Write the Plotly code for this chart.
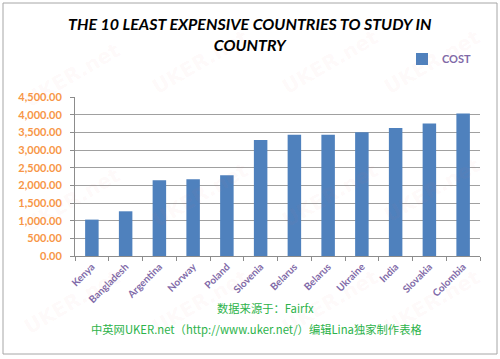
import plotly.graph_objects as go

countries = ["Kenya", "Bangladesh", "Argentina", "Norway", "Poland", "Slovenia",
             "Belarus", "Belarus ", "Ukraine", "India", "Slovakia", "Colombia"]
tick_text = ["Kenya", "Bangladesh", "Argentina", "Norway", "Poland", "Slovenia",
             "Belarus", "Belarus", "Ukraine", "India", "Slovakia", "Colombia"]
cost = [1030, 1265, 2145, 2170, 2285, 3285, 3435, 3435, 3500, 3625, 3750, 4030]
y_ticks = [0, 500, 1000, 1500, 2000, 2500, 3000, 3500, 4000, 4500]

W, H = 500, 359
L, R, T, B = 75, 20, 97, 103
PW, PH = W - L - R, H - T - B


def px(x):
    return (x - L) / PW


def py(y):
    return (H - B - y) / PH


fig = go.Figure()
fig.add_trace(go.Bar(x=countries, y=cost, name="<b>COST</b>", marker_color="#4F81BD",
                     marker_line_width=0))

annotations = []
wm = [(72, 75), (200, 62), (330, 62), (432, 62), (72, 200), (200, 195), (330, 195),
      (432, 190), (72, 302), (200, 302), (330, 302), (432, 302)]
for (x, y) in wm:
    annotations.append(dict(x=px(x), y=py(y), xref="paper", yref="paper", text="<b>UKER.net</b>",
                            showarrow=False, textangle=-30, xanchor="center", yanchor="middle",
                            font=dict(family="DejaVu Sans", size=20,
                                      color="rgba(240,120,100,0.05)")))

annotations.append(dict(x=px(250), y=py(34), xref="paper", yref="paper", xanchor="center",
                        yanchor="middle",
                        text="<b><i>THE 10 LEAST EXPENSIVE COUNTRIES TO STUDY IN<br>COUNTRY</i></b>",
                        showarrow=False, align="center",
                        font=dict(family="Lato, Open Sans", size=16, color="#000000")))
annotations.append(dict(x=px(265), y=py(308), xref="paper", yref="paper", xanchor="center",
                        yanchor="middle",
                        text="数据来源于：Fairfx", showarrow=False,
                        font=dict(family="Noto Sans CJK SC, Lato", size=11.3, color="#2DB34A")))
annotations.append(dict(x=px(256), y=py(329), xref="paper", yref="paper", xanchor="center",
                        yanchor="middle",
                        text="中英网UKER.net（http://www.uker.net/）编辑Lina独家制作表格", showarrow=False,
                        font=dict(family="Noto Sans CJK SC, Lato", size=11.3, color="#2DB34A")))

shapes = [dict(type="rect", xref="paper", yref="paper", x0=px(3), x1=px(497), y0=py(3), y1=py(354),
               line=dict(color="#A6A6A6", width=1), layer="below")]

fig.update_layout(
    width=W, height=H,
    margin=dict(l=L, r=R, t=T, b=B, autoexpand=False),
    paper_bgcolor="white", plot_bgcolor="white",
    bargap=0.6,
    showlegend=True,
    legend=dict(x=px(402), y=py(59), xanchor="left", yanchor="middle",
                font=dict(family="Lato, Open Sans", size=11, color="#7F6AA8"),
                bgcolor="rgba(0,0,0,0)", itemwidth=30),
    xaxis=dict(tickvals=countries, ticktext=[f"<b>{t}</b>" for t in tick_text],
               tickangle=-45, tickfont=dict(family="Lato, Open Sans", size=10, color="#7F6AA8"),
               showline=True, linecolor="#8C8C8C", linewidth=1, automargin=False,
               ticks="outside", tickson="boundaries", ticklen=4, tickcolor="#8C8C8C",
               showgrid=False),
    yaxis=dict(range=[0, 4500], tickvals=y_ticks,
               ticktext=[f"<b>{v:,.2f}</b>" for v in y_ticks],
               tickfont=dict(family="Lato, Open Sans", size=11, color="#F79646"),
               showgrid=True, gridcolor="#A0A0A0", gridwidth=1, automargin=False,
               showline=True, linecolor="#8C8C8C", linewidth=1,
               ticks="outside", ticklen=4, tickcolor="#8C8C8C", ticklabelstandoff=6,
               zeroline=False),
    annotations=annotations,
    shapes=shapes,
)

fig.write_html("out.html", config={"displayModeBar": False},
               post_script="document.body.style.margin='0';")
